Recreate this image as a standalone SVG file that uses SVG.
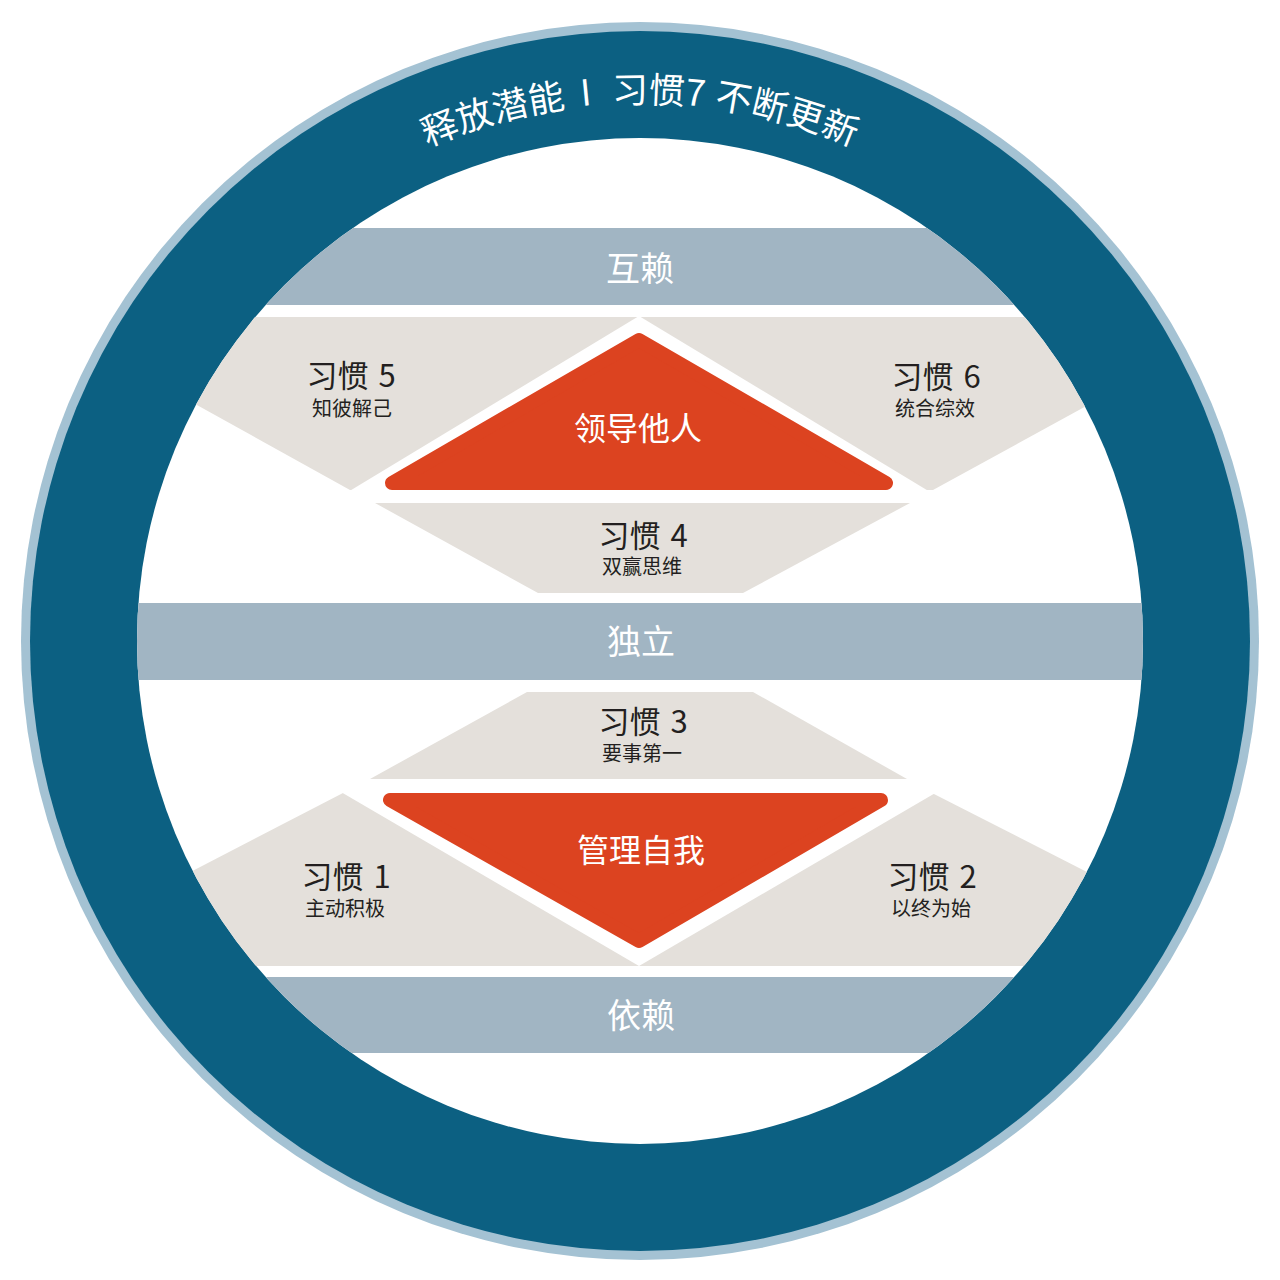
<svg xmlns="http://www.w3.org/2000/svg" xmlns:xlink="http://www.w3.org/1999/xlink" width="1280" height="1280" viewBox="0 0 1280 1280">
<style>
.band{fill:#a1b5c3}
.gray{fill:#e4e0db}
.red{fill:#dc4320;stroke:#dc4320;stroke-width:14;stroke-linejoin:round}
.wht{fill:#ffffff}
.lbl{font-family:"Noto Sans CJK SC","Noto Sans",sans-serif;text-anchor:middle}
.band-t{font-size:34px;fill:#ffffff}
.core-t{font-size:32px;fill:#ffffff}
.h-t{font-size:31px;fill:#231f20}
.s-t{font-size:20px;fill:#231f20}
.arc-t{font-size:36px;fill:#ffffff}
</style>
<defs>
<clipPath id="inner"><circle cx="640" cy="641" r="503"/></clipPath>
<path id="arcPath" d="M 102,641 A 538 538 0 0 1 1178,641"/>
</defs>
<rect width="1280" height="1280" fill="#ffffff"/>
<g id="ring">
<circle cx="640" cy="641" r="619" fill="#a4c2d3"/>
<circle cx="640" cy="641" r="610" fill="#0c6082"/>
<circle cx="640" cy="641" r="503" fill="#ffffff"/>
<text class="lbl arc-t"><textPath xlink:href="#arcPath" href="#arcPath" startOffset="50%">释放潜能<tspan dx="16">I</tspan><tspan dx="20">习惯7</tspan><tspan dx="10">不断更新</tspan></textPath></text>
</g>
<g clip-path="url(#inner)">
<g id="band-interdependence"><rect class="band" x="100" y="228" width="1080" height="77"/><text class="lbl band-t" x="640" y="281">互赖</text></g>
<g id="band-independence"><rect class="band" x="100" y="603" width="1080" height="77"/><text class="lbl band-t" x="641" y="654">独立</text></g>
<g id="band-dependence"><rect class="band" x="100" y="977" width="1080" height="76"/><text class="lbl band-t" x="641" y="1028">依赖</text></g>
<g id="upper-gray"><polygon class="gray" points="150,379 350,490 933,490 1130,382 1130,317 150,317"/></g>
<polygon class="wht" points="639,316 940,498 338,498"/>
<g id="habit4"><polygon class="gray" points="375,503 910,503 743,593 538,593"/><text class="lbl h-t" x="643" y="547">习惯<tspan dx="10">4</tspan></text><text class="lbl s-t" x="642" y="574">双赢思维</text></g>
<g id="habit3"><polygon class="gray" points="527,692 753,692 907,779 370,779"/><text class="lbl h-t" x="643" y="733">习惯<tspan dx="10">3</tspan></text><text class="lbl s-t" x="642" y="761">要事第一</text></g>
<g id="lower-gray"><polygon class="gray" points="150,893 343,793 932,793 1130,894 1130,966 150,966"/></g>
<polygon class="wht" points="329,785 949,785 639,966"/>
</g>
<g id="lead-others"><polygon class="red" points="639,340 886,483 392,483"/><text class="lbl core-t" x="638" y="440">领导他人</text></g>
<g id="manage-self"><polygon class="red" points="390,800 881,800 639,941"/><text class="lbl core-t" x="641" y="862">管理自我</text></g>
<g id="habit5"><text class="lbl h-t" x="351" y="387">习惯<tspan dx="10">5</tspan></text><text class="lbl s-t" x="352" y="416">知彼解己</text></g>
<g id="habit6"><text class="lbl h-t" x="936" y="388">习惯<tspan dx="10">6</tspan></text><text class="lbl s-t" x="935" y="416">统合综效</text></g>
<g id="habit1"><text class="lbl h-t" x="346" y="888">习惯<tspan dx="10">1</tspan></text><text class="lbl s-t" x="345" y="916">主动积极</text></g>
<g id="habit2"><text class="lbl h-t" x="932" y="888">习惯<tspan dx="10">2</tspan></text><text class="lbl s-t" x="931" y="916">以终为始</text></g>
<g id="connectors"></g>
</svg>
